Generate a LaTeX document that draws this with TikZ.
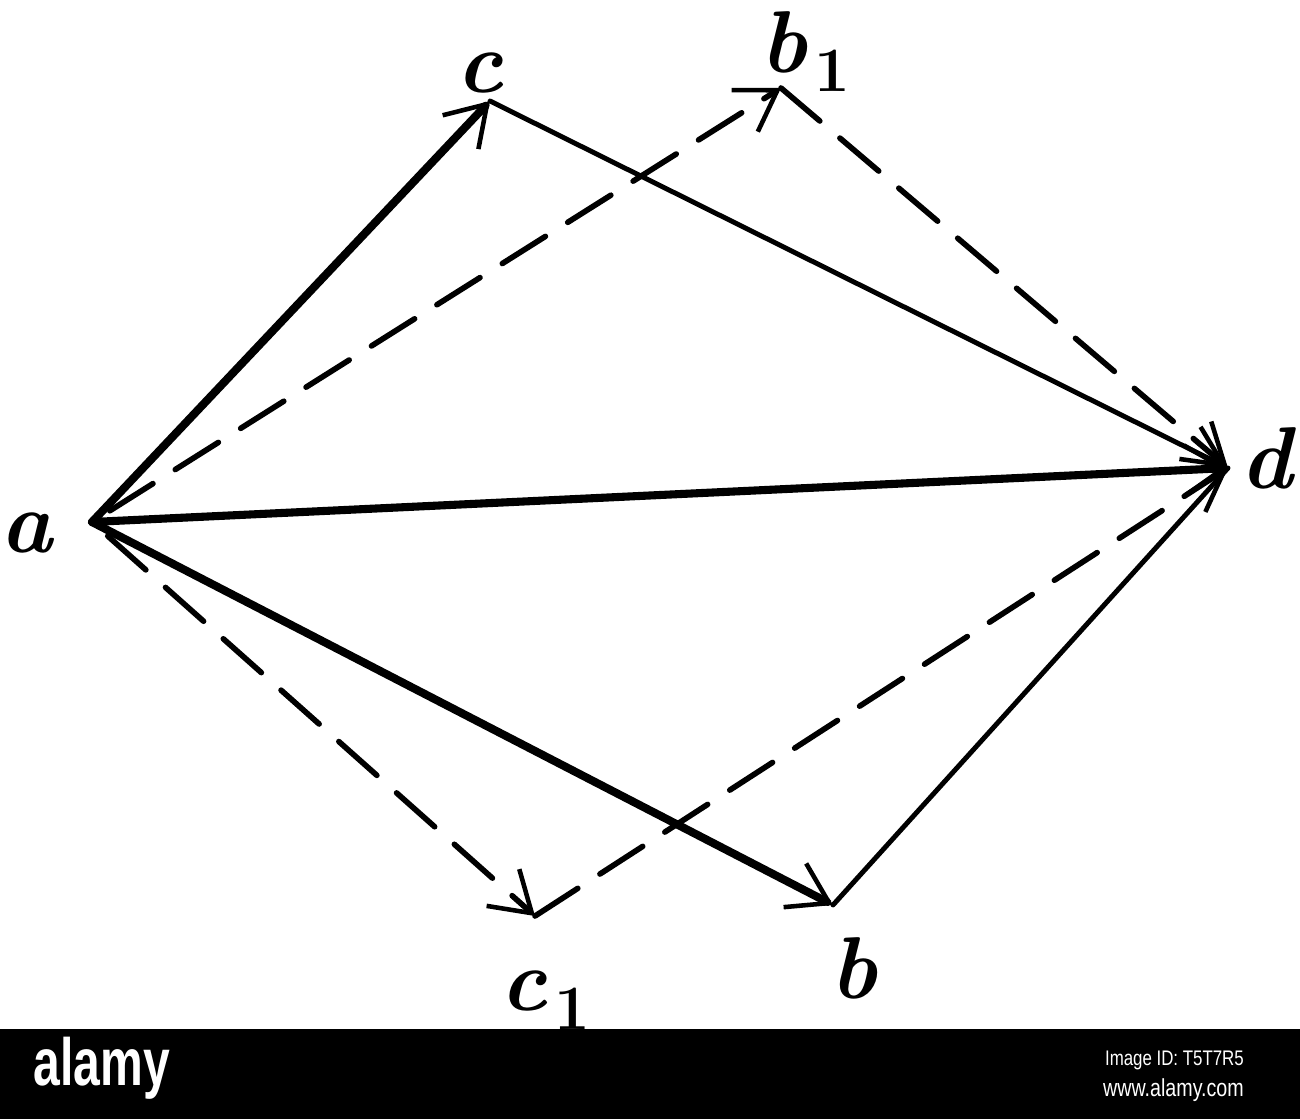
\documentclass[tikz,border=0pt]{standalone}
\usepackage{fontspec}
\usetikzlibrary{arrows.meta}
\newfontfamily\wmfont{Liberation Sans}
\newcommand{\subone}{\raisebox{-11pt}{\fontsize{36}{40}\selectfont\bfseries\upshape 1}}
\tikzset{
  thickline/.style={line width=4.6pt, line cap=round},
  thinline/.style={line width=2.8pt, line cap=round},
  dashline/.style={line width=3.2pt, line cap=round, dash pattern=on 29pt off 15pt},
  barbtip/.style={-{Straight Barb[length=22pt,width=28pt,line width=2.6pt]}},
  lbl/.style={inner sep=0pt, font=\fontsize{50}{60}\selectfont\bfseries\itshape},
}
\begin{document}
\begin{tikzpicture}[x=0.02cm, y=-0.02cm]
\useasboundingbox (0,0) rectangle (1300,1119);
% vertices
\coordinate (a) at (92,522);
\coordinate (c) at (490,101);
\coordinate (b1) at (781,88);
\coordinate (d) at (1228,468);
\coordinate (c1) at (535,916);
\coordinate (b) at (833,905);
% connectors
\draw[thickline, barbtip] (a) -- (c);
\draw[thinline, barbtip] (c) -- (d);
\draw[thickline, barbtip] (a) -- (d);
\draw[thickline, barbtip] (a) -- (b);
\draw[thinline] (b) -- (d);
\draw[dashline, barbtip, shorten <=12pt] (a) -- (b1);
\draw[dashline, barbtip] (b1) -- (d);
\draw[dashline, barbtip, shorten <=12pt] (a) -- (c1);
\draw[dashline, barbtip] (c1) -- (d);
% labels
\node[lbl, anchor=base west] (la) at (0,552) {a};
\node[lbl, anchor=base west] (lc) at (456,92) {c};
\node[lbl, anchor=base west] (lb1) at (760,72) {b\kern4pt\subone};
\node[lbl, anchor=base west] (ld) at (1240,488) {d};
\node[lbl, anchor=base west] (lc1) at (500,1010) {c\kern4pt\subone};
\node[lbl, anchor=base west] (lb) at (830,998) {b};
% watermark band
\fill[black] (0,1029) rectangle (1300,1119);
\node[text=white, font=\wmfont\bfseries\fontsize{38}{40}\selectfont] (wm) at (102,1068) {\scalebox{0.72}[1]{alamy}};
\node[text=white, font=\wmfont\fontsize{12}{14}\selectfont, anchor=east] (wmid) at (1250,1060) {\scalebox{0.8}[1]{Image ID: T5T7R5}};
\node[text=white, font=\wmfont\fontsize{14}{16}\selectfont, anchor=east] (wmurl) at (1250,1090) {\scalebox{0.8}[1]{www.alamy.com}};
\end{tikzpicture}
\end{document}
